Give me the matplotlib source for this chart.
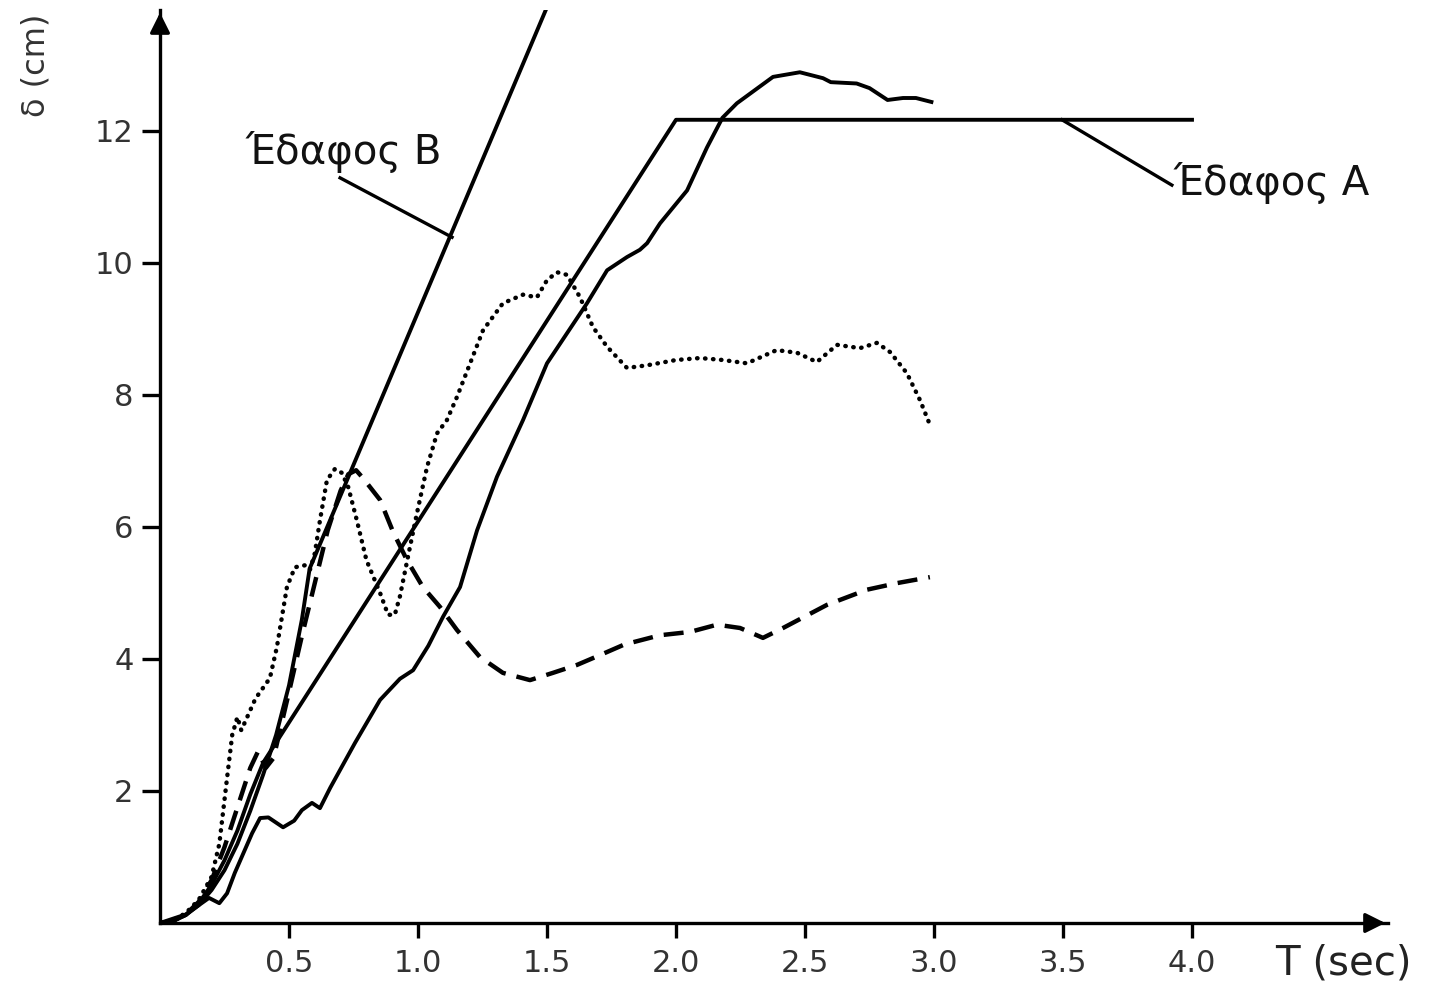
import matplotlib
matplotlib.use("Agg")
import matplotlib.pyplot as plt

plt.rcParams['font.family'] = ['DejaVu Sans']

# Design spectra (straight lines)
T_soil_A = [0, 0.05, 0.1, 0.15, 0.2, 0.25, 0.3, 0.35, 0.4, 2.0, 4.0]
d_soil_A = [0, 0.03, 0.12, 0.3, 0.58, 0.95, 1.4, 1.95, 2.43, 12.17, 12.17]

T_soil_B = [0, 0.05, 0.1, 0.15, 0.2, 0.25, 0.3, 0.35, 0.4, 0.45, 0.5, 0.55, 0.58, 1.51]
d_soil_B = [0, 0.03, 0.12, 0.27, 0.5, 0.8, 1.2, 1.7, 2.25, 2.85, 3.6, 4.6, 5.37, 13.97]

# Recorded spectra
T_solid = [0, 0.1, 0.19, 0.23, 0.26, 0.29, 0.357, 0.388, 0.42, 0.477, 0.52, 0.55, 0.589,
           0.62, 0.66, 0.756, 0.853, 0.93, 0.981, 1.04, 1.097, 1.163, 1.229, 1.306,
           1.407, 1.5, 1.58, 1.655, 1.733, 1.81, 1.86, 1.888, 1.938, 2.043, 2.12, 2.18,
           2.236, 2.376, 2.48, 2.57, 2.6, 2.7, 2.75, 2.82, 2.88, 2.93, 2.99]
d_solid = [0, 0.13, 0.38, 0.3, 0.45, 0.76, 1.36, 1.59, 1.6, 1.45, 1.55, 1.71, 1.82,
           1.74, 2.05, 2.73, 3.38, 3.7, 3.83, 4.2, 4.64, 5.09, 5.95, 6.76,
           7.62, 8.48, 8.95, 9.39, 9.89, 10.09, 10.2, 10.3, 10.6, 11.1, 11.75, 12.2,
           12.42, 12.82, 12.89, 12.8, 12.74, 12.72, 12.65, 12.47, 12.5, 12.5, 12.44]

T_dotted = [0, 0.05, 0.1, 0.15, 0.2, 0.23, 0.26, 0.28, 0.3, 0.315, 0.33, 0.37, 0.426,
            0.453, 0.492, 0.523, 0.562, 0.581, 0.6, 0.62, 0.647, 0.678, 0.705, 0.73,
            0.763, 0.8, 0.853, 0.884, 0.91, 0.93, 0.969, 0.996, 1.035, 1.074, 1.112,
            1.151, 1.202, 1.252, 1.329, 1.407, 1.461, 1.5, 1.539, 1.578, 1.628, 1.678,
            1.733, 1.81, 1.888, 2.0, 2.093, 2.182, 2.275, 2.39, 2.469, 2.546, 2.624,
            2.713, 2.779, 2.83, 2.895, 2.946, 2.984]
d_dotted = [0, 0.04, 0.15, 0.35, 0.7, 1.2, 2.2, 2.85, 3.12, 2.92, 3.05, 3.4, 3.71,
            4.18, 5.09, 5.39, 5.42, 5.35, 5.6, 6.1, 6.71, 6.88, 6.82, 6.6,
            6.1, 5.5, 5.0, 4.67, 4.67, 4.95, 5.7, 6.21, 6.91, 7.42, 7.62,
            7.97, 8.48, 8.98, 9.39, 9.52, 9.48, 9.74, 9.86, 9.82, 9.48, 9.03,
            8.73, 8.41, 8.45, 8.53, 8.56, 8.53, 8.48, 8.68, 8.64, 8.5, 8.76,
            8.71, 8.79, 8.65, 8.33, 7.92, 7.55]

T_dashed = [0, 0.05, 0.1, 0.15, 0.2, 0.25, 0.3, 0.35, 0.38, 0.41, 0.44, 0.5, 0.55,
            0.6, 0.65, 0.7, 0.73, 0.76, 0.787, 0.853, 0.903, 0.957, 1.019, 1.085,
            1.151, 1.24, 1.329, 1.434, 1.523, 1.616, 1.7, 1.8, 1.938, 2.054, 2.159,
            2.248, 2.337, 2.415, 2.585, 2.74, 2.857, 2.984]
d_dashed = [0, 0.03, 0.13, 0.32, 0.65, 1.15, 1.75, 2.35, 2.6, 2.35, 2.5, 3.5, 4.35,
            5.15, 5.95, 6.55, 6.8, 6.86, 6.74, 6.41, 5.93, 5.5, 5.09, 4.79,
            4.44, 4.03, 3.79, 3.68, 3.79, 3.91, 4.05, 4.22, 4.36, 4.41, 4.52,
            4.47, 4.32, 4.47, 4.82, 5.05, 5.15, 5.24]

x_ticks = [0.5, 1.0, 1.5, 2.0, 2.5, 3.0, 3.5, 4.0]
x_ticklabels = ['0.5', '1.0', '1.5', '2.0', '2.5', '3.0', '3.5', '4.0']
y_ticks = [2, 4, 6, 8, 10, 12]

label_B = 'Έδαφος Β'
label_A = 'Έδαφος Α'

fig = plt.figure(figsize=(14.33, 9.84), dpi=100)
ax = fig.add_axes([160 / 1433, 61 / 984, (1388 - 160) / 1433, 913 / 984])
ax.set_xlim(0, (1388 - 160) / 258)
ax.set_ylim(0, 913 / 66)

lw = 2.8
ax.plot(T_soil_A, d_soil_A, color='black', lw=lw)
ax.plot(T_soil_B, d_soil_B, color='black', lw=lw)
ax.plot(T_solid, d_solid, color='black', lw=lw)
ax.plot(T_dotted, d_dotted, color='black', lw=3.2, linestyle=(0, (0.1, 1.7)),
        dash_capstyle='round')
ax.plot(T_dashed, d_dashed, color='black', lw=3.2, linestyle=(0, (4.5, 2.5)))

# labels with leader lines
ax.text(0.33, 11.5, label_B, fontsize=29, color='#111111', ha='left', va='baseline')
ax.plot([0.698, 1.132], [11.29, 10.39], color='black', lw=2.4)
ax.text(3.93, 11.03, label_A, fontsize=29, color='#111111', ha='left', va='baseline')
ax.plot([3.496, 3.922], [12.17, 11.18], color='black', lw=2.4)

# axes styling
for s in ['top', 'right']:
    ax.spines[s].set_visible(False)
for s in ['left', 'bottom']:
    ax.spines[s].set_linewidth(2.4)
ax.set_xticks(x_ticks)
ax.set_xticklabels(x_ticklabels)
ax.set_yticks(y_ticks)
ax.tick_params(axis='x', direction='out', length=11, width=2.4, labelsize=22,
               labelcolor='#333333', pad=8)
ax.tick_params(axis='y', direction='out', length=13, width=2.4, labelsize=22,
               labelcolor='#333333', pad=6)

# arrow heads
ax.annotate('', xy=(1.0, 0), xytext=(0.985, 0), xycoords='axes fraction',
            arrowprops=dict(arrowstyle='-|>', color='black', lw=2.4, mutation_scale=30),
            annotation_clip=False)
ax.annotate('', xy=(0, 1.0), xytext=(0, 0.98), xycoords='axes fraction',
            arrowprops=dict(arrowstyle='-|>', color='black', lw=2.4, mutation_scale=30),
            annotation_clip=False)

fig.text(1275 / 1433, 1 - 963 / 984, 'T (sec)', fontsize=29, color='#222222',
         ha='left', va='center')
fig.text(36 / 1433, 1 - 65 / 984, 'δ (cm)', fontsize=23, color='#333333',
         rotation=90, ha='center', va='center')

fig.savefig('out.png', dpi=100)
